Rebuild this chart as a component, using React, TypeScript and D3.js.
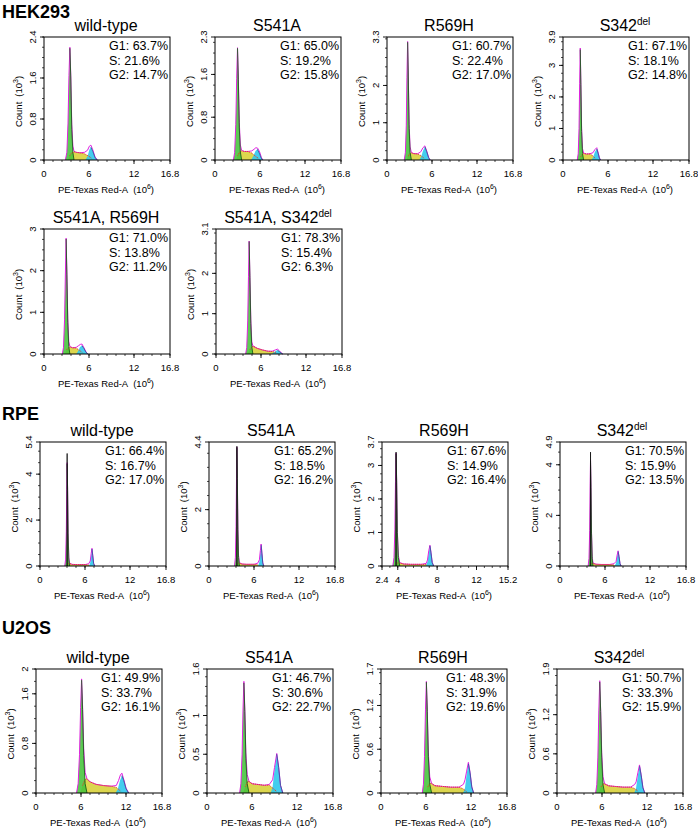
import React from 'react';
import * as d3 from 'd3';

type Pt = [number, number];

const FONT = "'Liberation Sans', Arial, Helvetica, sans-serif";

const rowLabels = ['HEK293', 'RPE', 'U2OS'];

const panelTitles = ['wild-type', 'S541A', 'R569H', 'S342', 'S541A, R569H', 'S541A, S342', 'wild-type', 'S541A', 'R569H', 'S342', 'wild-type', 'S541A', 'R569H', 'S342'];
const panelTitleSup = ['', '', '', 'del', '', 'del', '', '', '', 'del', '', '', '', 'del'];
const g1Pct = ['63.7', '65.0', '60.7', '67.1', '71.0', '78.3', '66.4', '65.2', '67.6', '70.5', '49.9', '46.7', '48.3', '50.7'];
const sPct = ['21.6', '19.2', '22.4', '18.1', '13.8', '15.4', '16.7', '18.5', '14.9', '15.9', '33.7', '30.6', '31.9', '33.3'];
const g2Pct = ['14.7', '15.8', '17.0', '14.8', '11.2', '6.3', '17.0', '16.2', '16.4', '13.5', '16.1', '22.7', '19.6', '15.9'];

const yMaxes = [2.4, 2.3, 3.3, 3.9, 3, 3.1, 5.4, 4.4, 3.7, 4.9, 2, 1.6, 1.7, 1.9];
const yTickValues = [
  [0, 0.8, 1.6, 2.4], [0, 0.8, 1.6, 2.3], [0, 1, 2, 3.3], [0, 1, 2, 3, 3.9],
  [0, 1, 2, 3], [0, 1, 2, 3.1],
  [0, 2, 4, 5.4], [0, 2, 4.4], [0, 1, 2, 3, 3.7], [0, 2, 4, 4.9],
  [0, 0.8, 1.6, 2], [0, 0.5, 1, 1.6], [0, 0.6, 1.2, 1.7], [0, 0.6, 1.2, 1.9],
];
const yMinorSteps = [0.2, 0.2, 0.25, 0.25, 0.25, 0.25, 0.5, 0.5, 0.25, 0.5, 0.2, 0.125, 0.15, 0.15];
const xDomainStd: Pt = [0, 16.8];
const xDomainAlt: Pt = [2.4, 15.2];
const xTicksStd = [0, 6, 12, 16.8];
const xTicksAlt = [2.4, 4, 8, 12, 15.2];

// G1 peak model (green)
const g1Curves: Pt[][] = [
  [[2.85, 0], [3.05, 0.15], [3.2, 0.7], [3.33, 1.6], [3.45, 2.18], [3.57, 1.6], [3.7, 0.6], [3.85, 0.15], [4.0, 0]],
  [[2.45, 0], [2.62, 0.14], [2.77, 0.65], [2.89, 1.5], [3.0, 2.09], [3.11, 1.5], [3.24, 0.6], [3.38, 0.15], [3.55, 0]],
  [[2.3, 0], [2.45, 0.2], [2.57, 0.9], [2.66, 2.2], [2.75, 3.16], [2.84, 2.2], [2.95, 0.85], [3.08, 0.2], [3.25, 0]],
  [[1.9, 0], [2.03, 0.2], [2.14, 1.0], [2.22, 2.4], [2.3, 3.5], [2.38, 2.4], [2.48, 0.9], [2.6, 0.2], [2.75, 0]],
  [[2.45, 0], [2.6, 0.16], [2.74, 0.8], [2.85, 1.9], [2.95, 2.76], [3.05, 1.9], [3.17, 0.75], [3.3, 0.18], [3.45, 0]],
  [[3.95, 0], [4.1, 0.16], [4.23, 0.8], [4.33, 1.9], [4.42, 2.79], [4.52, 1.9], [4.64, 0.75], [4.77, 0.18], [4.92, 0]],
  [[3.3, 0], [3.42, 0.3], [3.51, 1.5], [3.57, 3.3], [3.62, 4.45], [3.68, 3.3], [3.75, 1.4], [3.84, 0.3], [3.95, 0]],
  [[3.4, 0], [3.52, 0.3], [3.61, 1.4], [3.67, 3.1], [3.72, 4.2], [3.78, 3.1], [3.85, 1.3], [3.94, 0.3], [4.05, 0]],
  [[3.5, 0], [3.62, 0.25], [3.71, 1.1], [3.77, 2.5], [3.83, 3.35], [3.89, 2.5], [3.96, 1.0], [4.06, 0.25], [4.2, 0]],
  [[3.75, 0], [3.87, 0.3], [3.96, 1.4], [4.02, 3.1], [4.07, 4.15], [4.13, 3.1], [4.2, 1.3], [4.29, 0.3], [4.4, 0]],
  [[5.4, 0], [5.62, 0.15], [5.8, 0.6], [5.95, 1.35], [6.08, 1.82], [6.21, 1.35], [6.36, 0.6], [6.55, 0.15], [6.8, 0]],
  [[4.35, 0], [4.52, 0.12], [4.68, 0.5], [4.8, 1.05], [4.92, 1.42], [5.04, 1.05], [5.18, 0.45], [5.36, 0.12], [5.6, 0]],
  [[5.5, 0], [5.66, 0.12], [5.8, 0.5], [5.93, 1.12], [6.05, 1.52], [6.17, 1.12], [6.31, 0.5], [6.5, 0.12], [6.75, 0]],
  [[5.15, 0], [5.31, 0.13], [5.45, 0.55], [5.58, 1.25], [5.7, 1.7], [5.82, 1.25], [5.96, 0.55], [6.13, 0.13], [6.35, 0]],
];

// S phase model (yellow)
const sCurves: Pt[][] = [
  [[3.2, 0], [3.4, 0.08], [3.7, 0.14], [4.0, 0.16], [4.3, 0.15], [4.8, 0.14], [5.4, 0.12], [5.9, 0.08], [6.3, 0.04], [6.7, 0]],
  [[2.8, 0], [3.0, 0.08], [3.3, 0.15], [3.55, 0.17], [3.9, 0.16], [4.4, 0.16], [4.9, 0.13], [5.4, 0.07], [5.8, 0.03], [6.1, 0]],
  [[2.6, 0], [2.8, 0.1], [3.05, 0.18], [3.25, 0.19], [3.6, 0.17], [4.1, 0.16], [4.5, 0.12], [4.9, 0.06], [5.3, 0]],
  [[2.2, 0], [2.35, 0.1], [2.6, 0.19], [2.75, 0.21], [3.1, 0.19], [3.6, 0.19], [4.0, 0.13], [4.3, 0.05], [4.6, 0]],
  [[2.8, 0], [3.0, 0.1], [3.3, 0.16], [3.45, 0.17], [3.8, 0.15], [4.3, 0.14], [4.7, 0.09], [5.1, 0.04], [5.5, 0]],
  [[4.2, 0], [4.5, 0.1], [4.8, 0.18], [5.0, 0.19], [5.5, 0.14], [6.2, 0.1], [6.9, 0.07], [7.5, 0.06], [8.0, 0.04], [8.5, 0]],
  [[3.5, 0], [3.7, 0.1], [3.95, 0.1], [4.3, 0.07], [5.0, 0.06], [6.0, 0.06], [6.5, 0.04], [6.8, 0]],
  [[3.6, 0], [3.8, 0.1], [4.05, 0.1], [4.4, 0.07], [5.0, 0.06], [6.0, 0.06], [6.5, 0.04], [6.8, 0]],
  [[3.7, 0], [3.95, 0.09], [4.2, 0.09], [4.6, 0.06], [5.3, 0.05], [6.4, 0.05], [6.9, 0.04], [7.2, 0]],
  [[3.95, 0], [4.2, 0.1], [4.4, 0.1], [4.8, 0.07], [5.5, 0.06], [6.6, 0.06], [7.2, 0.04], [7.6, 0]],
  [[5.9, 0], [6.2, 0.12], [6.55, 0.22], [6.8, 0.23], [7.2, 0.18], [8.0, 0.14], [9.0, 0.12], [10.0, 0.11], [10.7, 0.09], [11.3, 0.03], [11.8, 0]],
  [[4.8, 0], [5.1, 0.08], [5.4, 0.15], [5.6, 0.15], [6.0, 0.12], [6.8, 0.11], [7.6, 0.1], [8.3, 0.1], [8.8, 0.06], [9.3, 0.02], [9.6, 0]],
  [[5.9, 0], [6.2, 0.08], [6.5, 0.13], [6.75, 0.13], [7.2, 0.1], [8.2, 0.09], [9.3, 0.08], [10.4, 0.08], [10.9, 0.06], [11.4, 0.02], [11.8, 0]],
  [[5.55, 0], [5.85, 0.09], [6.15, 0.14], [6.35, 0.14], [6.9, 0.11], [7.8, 0.1], [8.8, 0.09], [9.8, 0.09], [10.3, 0.07], [10.8, 0.03], [11.2, 0]],
];

// G2 peak model (cyan)
const g2Curves: Pt[][] = [
  [[5.5, 0], [5.8, 0.07], [6.05, 0.2], [6.25, 0.25], [6.5, 0.17], [6.8, 0.05], [7.1, 0]],
  [[4.8, 0], [5.1, 0.07], [5.4, 0.17], [5.65, 0.2], [5.9, 0.13], [6.15, 0.04], [6.35, 0]],
  [[4.3, 0], [4.55, 0.08], [4.8, 0.25], [5.05, 0.35], [5.3, 0.22], [5.55, 0.06], [5.75, 0]],
  [[3.8, 0], [4.0, 0.08], [4.25, 0.25], [4.5, 0.35], [4.7, 0.2], [4.85, 0.06], [5.0, 0]],
  [[4.3, 0], [4.55, 0.07], [4.8, 0.17], [5.05, 0.2], [5.3, 0.14], [5.6, 0.04], [5.85, 0]],
  [[7.4, 0], [7.7, 0.04], [8.0, 0.08], [8.2, 0.09], [8.45, 0.06], [8.7, 0.02], [8.9, 0]],
  [[6.55, 0], [6.7, 0.15], [6.83, 0.5], [6.93, 0.74], [7.03, 0.45], [7.15, 0.1], [7.3, 0]],
  [[6.55, 0], [6.72, 0.15], [6.85, 0.5], [6.95, 0.74], [7.05, 0.45], [7.17, 0.1], [7.3, 0]],
  [[6.85, 0], [7.02, 0.13], [7.15, 0.42], [7.27, 0.6], [7.38, 0.38], [7.5, 0.1], [7.65, 0]],
  [[7.3, 0], [7.48, 0.13], [7.62, 0.4], [7.75, 0.57], [7.87, 0.36], [8.0, 0.09], [8.15, 0]],
  [[10.6, 0], [10.9, 0.06], [11.2, 0.2], [11.45, 0.28], [11.7, 0.2], [12.0, 0.07], [12.35, 0]],
  [[8.5, 0], [8.75, 0.08], [9.0, 0.3], [9.3, 0.5], [9.55, 0.33], [9.8, 0.1], [10.1, 0]],
  [[10.95, 0], [11.2, 0.07], [11.42, 0.26], [11.65, 0.4], [11.88, 0.27], [12.1, 0.08], [12.35, 0]],
  [[10.3, 0], [10.55, 0.08], [10.78, 0.27], [11.0, 0.41], [11.22, 0.27], [11.45, 0.08], [11.7, 0]],
];

// overall fit (magenta)
const fitCurves: Pt[][] = [
  [[2.85, 0], [3.05, 0.15], [3.2, 0.72], [3.33, 1.65], [3.45, 2.2], [3.57, 1.65], [3.7, 0.7], [3.85, 0.27], [4.0, 0.17], [4.3, 0.15], [4.8, 0.14], [5.4, 0.15], [5.8, 0.19], [6.05, 0.27], [6.25, 0.29], [6.5, 0.2], [6.8, 0.06], [7.1, 0]],
  [[2.45, 0], [2.62, 0.14], [2.77, 0.66], [2.89, 1.52], [3.0, 2.1], [3.11, 1.55], [3.24, 0.7], [3.38, 0.28], [3.55, 0.18], [3.9, 0.16], [4.4, 0.16], [4.9, 0.17], [5.2, 0.2], [5.45, 0.23], [5.7, 0.22], [5.95, 0.15], [6.2, 0.04], [6.4, 0]],
  [[2.3, 0], [2.45, 0.2], [2.57, 0.92], [2.66, 2.22], [2.75, 3.18], [2.84, 2.25], [2.95, 0.95], [3.08, 0.35], [3.25, 0.2], [3.6, 0.17], [4.1, 0.17], [4.5, 0.22], [4.8, 0.33], [5.05, 0.38], [5.3, 0.24], [5.55, 0.07], [5.75, 0]],
  [[1.9, 0], [2.03, 0.2], [2.14, 1.0], [2.22, 2.42], [2.3, 3.55], [2.38, 2.45], [2.48, 1.0], [2.6, 0.36], [2.75, 0.22], [3.1, 0.19], [3.6, 0.2], [4.0, 0.23], [4.25, 0.33], [4.5, 0.39], [4.7, 0.22], [4.85, 0.07], [5.0, 0]],
  [[2.45, 0], [2.6, 0.16], [2.74, 0.82], [2.85, 1.92], [2.95, 2.78], [3.05, 1.95], [3.17, 0.85], [3.3, 0.3], [3.45, 0.18], [3.8, 0.15], [4.3, 0.16], [4.6, 0.2], [4.85, 0.23], [5.05, 0.24], [5.3, 0.16], [5.6, 0.05], [5.85, 0]],
  [[3.95, 0], [4.1, 0.16], [4.23, 0.82], [4.33, 1.92], [4.42, 2.8], [4.52, 1.95], [4.64, 0.85], [4.77, 0.3], [4.92, 0.2], [5.5, 0.14], [6.2, 0.1], [6.9, 0.07], [7.5, 0.07], [7.9, 0.1], [8.2, 0.12], [8.45, 0.08], [8.7, 0.03], [8.9, 0]],
  [[3.3, 0], [3.42, 0.3], [3.51, 1.5], [3.57, 3.32], [3.62, 4.5], [3.68, 3.35], [3.75, 1.45], [3.84, 0.38], [3.95, 0.12], [4.3, 0.07], [5.0, 0.06], [6.0, 0.06], [6.5, 0.1], [6.7, 0.22], [6.83, 0.55], [6.93, 0.77], [7.03, 0.48], [7.15, 0.12], [7.3, 0]],
  [[3.4, 0], [3.52, 0.3], [3.61, 1.4], [3.67, 3.12], [3.72, 4.22], [3.78, 3.15], [3.85, 1.35], [3.94, 0.38], [4.05, 0.12], [4.4, 0.07], [5.0, 0.06], [6.0, 0.06], [6.5, 0.1], [6.72, 0.22], [6.85, 0.55], [6.95, 0.78], [7.05, 0.48], [7.17, 0.12], [7.3, 0]],
  [[3.5, 0], [3.62, 0.25], [3.71, 1.1], [3.77, 2.52], [3.83, 3.37], [3.89, 2.55], [3.96, 1.05], [4.06, 0.32], [4.2, 0.1], [4.6, 0.06], [5.3, 0.05], [6.4, 0.05], [6.9, 0.08], [7.02, 0.18], [7.15, 0.45], [7.27, 0.62], [7.38, 0.4], [7.5, 0.11], [7.65, 0]],
  [[3.75, 0], [3.87, 0.3], [3.96, 1.4], [4.02, 3.12], [4.07, 4.2], [4.13, 3.15], [4.2, 1.35], [4.29, 0.38], [4.4, 0.12], [4.8, 0.07], [5.5, 0.06], [6.6, 0.06], [7.2, 0.09], [7.48, 0.18], [7.62, 0.43], [7.75, 0.6], [7.87, 0.38], [8.0, 0.1], [8.15, 0]],
  [[5.4, 0], [5.62, 0.15], [5.8, 0.62], [5.95, 1.38], [6.08, 1.84], [6.21, 1.4], [6.36, 0.72], [6.55, 0.33], [6.8, 0.23], [7.2, 0.18], [8.0, 0.14], [9.0, 0.12], [10.0, 0.11], [10.7, 0.12], [11.0, 0.2], [11.25, 0.29], [11.45, 0.32], [11.7, 0.22], [12.0, 0.08], [12.35, 0]],
  [[4.35, 0], [4.52, 0.12], [4.68, 0.5], [4.8, 1.07], [4.92, 1.44], [5.04, 1.08], [5.18, 0.52], [5.36, 0.24], [5.6, 0.15], [6.0, 0.12], [6.8, 0.11], [7.6, 0.1], [8.3, 0.11], [8.75, 0.17], [9.0, 0.33], [9.3, 0.51], [9.55, 0.34], [9.8, 0.1], [10.1, 0]],
  [[5.5, 0], [5.66, 0.12], [5.8, 0.5], [5.93, 1.14], [6.05, 1.53], [6.17, 1.14], [6.31, 0.56], [6.5, 0.22], [6.75, 0.13], [7.2, 0.1], [8.2, 0.09], [9.3, 0.08], [10.4, 0.08], [11.0, 0.12], [11.2, 0.18], [11.42, 0.3], [11.65, 0.42], [11.88, 0.28], [12.1, 0.09], [12.35, 0]],
  [[5.15, 0], [5.31, 0.13], [5.45, 0.55], [5.58, 1.27], [5.7, 1.72], [5.82, 1.27], [5.96, 0.62], [6.13, 0.25], [6.35, 0.14], [6.9, 0.11], [7.8, 0.1], [8.8, 0.09], [9.8, 0.09], [10.35, 0.13], [10.55, 0.17], [10.78, 0.31], [11.0, 0.43], [11.22, 0.28], [11.45, 0.09], [11.7, 0]],
];

// raw data spike (black) where it rises above the fit: [x, count]
const rawSpikes: (Pt | null)[] = [null, null, null, null, null, null, [3.62, 4.9], [3.72, 4.25], [3.83, 3.4], [4.07, 4.5], null, null, null, null];

// ---------- layout ----------
const PW = 126;
const rowLabelPos: Pt[] = [[2, 18], [2, 420], [2, 634]];
const panelLefts = [44, 215, 387, 563, 44, 216, 40, 209, 382, 560, 36, 207, 381, 557];
const panelTops = [37, 37, 37, 37, 229, 229, 442, 442, 442, 442, 669, 669, 669, 669];
const panelBottoms = [160, 160, 160, 160, 354, 354, 566, 566, 566, 566, 793, 793, 793, 793];

const C_G1 = '#44c43a';
const C_G1_LINE = '#1a5e1a';
const C_S = '#dcd64e';
const C_S_LINE = '#e0452a';
const C_G2 = '#30c8ec';
const C_G2_LINE = '#1c5e98';
const C_FIT = '#e020e0';

function fmt(v: number) {
  return String(v);
}

function Panel({ i }: { i: number }) {
  const left = panelLefts[i];
  const top = panelTops[i];
  const bottom = panelBottoms[i];
  const right = left + PW;
  const alt = i === 8;
  const xDom = alt ? xDomainAlt : xDomainStd;
  const xTicks = alt ? xTicksAlt : xTicksStd;
  const x = d3.scaleLinear().domain(xDom).range([left, right]);
  const y = d3.scaleLinear().domain([0, yMaxes[i]]).range([bottom, top]);
  const area = d3.area<Pt>().x((d) => x(d[0])).y0(y(0)).y1((d) => y(d[1]));
  const line = d3.line<Pt>().x((d) => x(d[0])).y((d) => y(d[1]));
  const minorX = d3.range(xDom[0], xDom[1] + 1e-6, alt ? 0.8 : 1.2);
  const minorY = d3.range(0, yMaxes[i] + 1e-6, yMinorSteps[i]);
  const sTop = sCurves[i].filter((d) => d[1] > 0);
  const spike = rawSpikes[i];
  const cx = left + 62;
  return (
    <g>
      <text x={cx} y={top - 6} textAnchor="middle" fontSize={16} fontFamily={FONT} fill="#000">
        {panelTitles[i]}
        {panelTitleSup[i] && (
          <tspan fontSize={10} dy={-6}>{panelTitleSup[i]}</tspan>
        )}
      </text>
      {/* fills */}
      <path d={area(sCurves[i]) || ''} fill={C_S} />
      <path d={area(g1Curves[i]) || ''} fill={C_G1} fillOpacity={0.88} />
      <path d={area(g2Curves[i]) || ''} fill={C_G2} fillOpacity={0.9} />
      <path d={line(fitCurves[i]) || ''} fill="none" stroke={C_FIT} strokeWidth={1} />
      <path d={line(sTop) || ''} fill="none" stroke={C_S_LINE} strokeWidth={1} strokeDasharray="1.2,0.8" />
      <path d={line(g1Curves[i].slice(4)) || ''} fill="none" stroke={C_G1_LINE} strokeWidth={0.9} />
      <path d={line(g2Curves[i].slice(3)) || ''} fill="none" stroke={C_G2_LINE} strokeWidth={0.8} />
      {spike && (
        <path
          d={line([[spike[0] - 0.03, 0], spike, [spike[0] + 0.03, 0]]) || ''}
          fill="none"
          stroke="#111"
          strokeWidth={0.8}
        />
      )}
      {/* frame */}
      <rect x={left} y={top} width={PW} height={bottom - top} fill="none" stroke="#000" strokeWidth={1} />
      {/* x ticks */}
      {minorX.map((v, k) => (
        <line key={'mx' + k} x1={x(v)} x2={x(v)} y1={bottom} y2={bottom + 2} stroke="#000" strokeWidth={0.7} />
      ))}
      {xTicks.map((v, k) => (
        <g key={'x' + k}>
          <line x1={x(v)} x2={x(v)} y1={bottom} y2={bottom + 4} stroke="#000" strokeWidth={0.9} />
          <text x={x(v)} y={bottom + 17} textAnchor="middle" fontSize={9.5} fontFamily={FONT} fill="#000">
            {fmt(v)}
          </text>
        </g>
      ))}
      {/* y ticks */}
      {minorY.map((v, k) => (
        <line key={'my' + k} x1={left - 2} x2={left} y1={y(v)} y2={y(v)} stroke="#000" strokeWidth={0.7} />
      ))}
      {yTickValues[i].map((v, k) => (
        <g key={'y' + k}>
          <line x1={left - 4} x2={left} y1={y(v)} y2={y(v)} stroke="#000" strokeWidth={0.9} />
          <text
            transform={`translate(${left - 8.5},${y(v)}) rotate(-90)`}
            textAnchor="middle"
            fontSize={9.5}
            fontFamily={FONT}
            fill="#000"
          >
            {fmt(v)}
          </text>
        </g>
      ))}
      <text
        transform={`translate(${left - 22.5},${(top + bottom) / 2 + 3}) rotate(-90)`}
        textAnchor="middle"
        fontSize={9.5}
        fontFamily={FONT}
        fill="#000"
      >
        Count
        <tspan dx={5}>(10</tspan>
        <tspan fontSize={7} dy={-4}>3</tspan>
        <tspan dy={4}>)</tspan>
      </text>
      <text x={cx} y={bottom + 33} textAnchor="middle" fontSize={9.5} fontFamily={FONT} fill="#000">
        PE-Texas Red-A
        <tspan dx={5}>(10</tspan>
        <tspan fontSize={7} dy={-4}>6</tspan>
        <tspan dy={4}>)</tspan>
      </text>
      {/* stats */}
      <text x={left + 65} y={top + 13} fontSize={12.5} fontFamily={FONT} fill="#000">G1: {g1Pct[i]}%</text>
      <text x={left + 65} y={top + 27.5} fontSize={12.5} fontFamily={FONT} fill="#000">S: {sPct[i]}%</text>
      <text x={left + 65} y={top + 42} fontSize={12.5} fontFamily={FONT} fill="#000">G2: {g2Pct[i]}%</text>
    </g>
  );
}

export default function App() {
  return (
    <svg width={698} height={832} style={{ position: 'absolute', left: 0, top: 0, background: '#fff' }}>
      <rect x={0} y={0} width={698} height={832} fill="#fff" />
      {rowLabels.map((t, k) => (
        <text key={t} x={rowLabelPos[k][0]} y={rowLabelPos[k][1]} fontSize={18} fontWeight="bold" fontFamily={FONT} fill="#000">
          {t}
        </text>
      ))}
      {panelTitles.map((_, i) => (
        <Panel key={i} i={i} />
      ))}
    </svg>
  );
}
